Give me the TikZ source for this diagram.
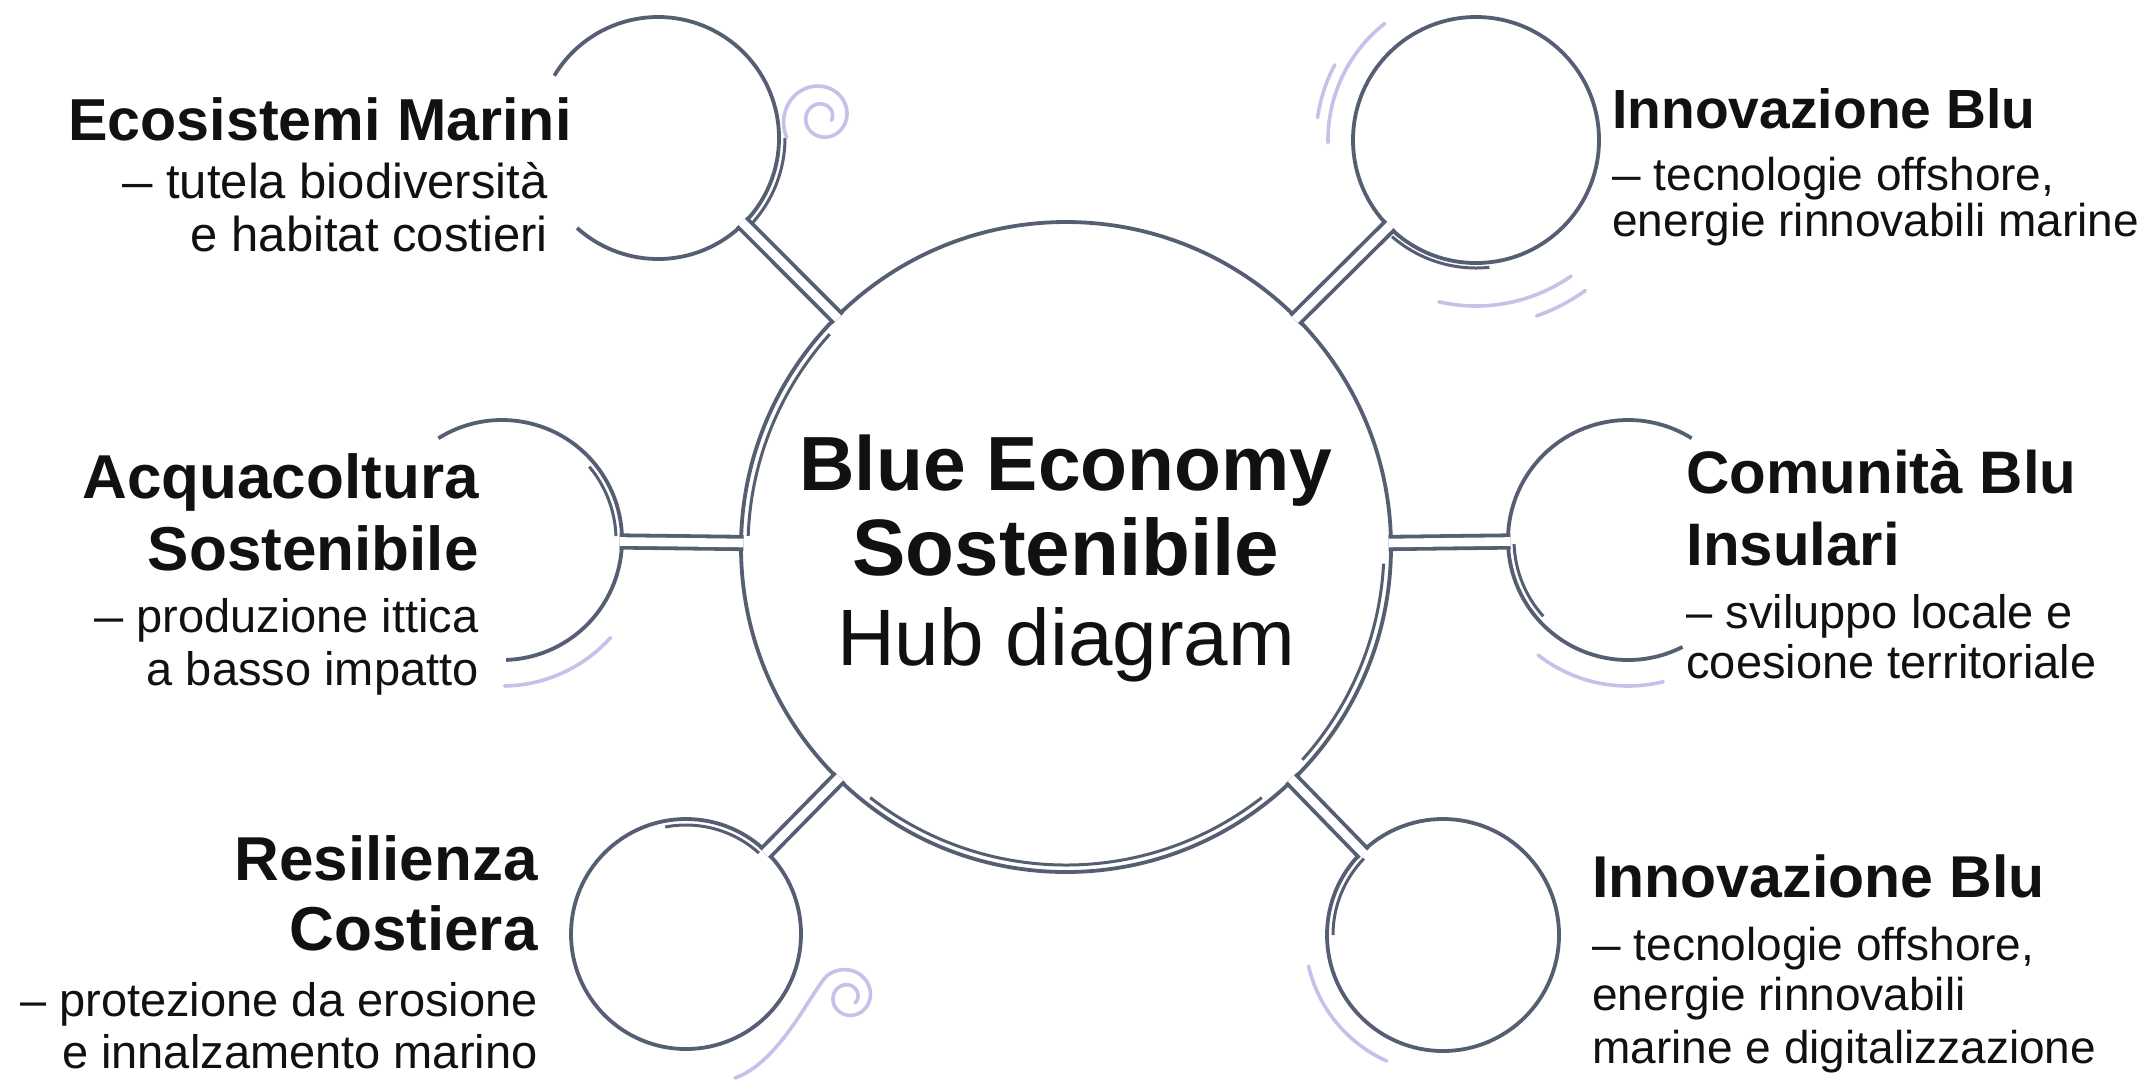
\documentclass[tikz,border=0pt]{standalone}
\usepackage{graphicx}
\usepackage{fontspec}
\setmainfont{Liberation Sans}
\definecolor{ink}{HTML}{555E72}
\definecolor{lav}{HTML}{C6C1EA}
\definecolor{txt}{HTML}{111111}
\newcommand\mytitle[1]{\bfseries\fontsize{#1}{#1}\selectfont}
\newcommand\mybody[1]{\fontsize{#1}{#1}\selectfont}
\newcommand\shortdash{\scalebox{0.62}[1]{—}}
\tikzset{
  ln/.style={draw=ink, line width=1.9pt},
  sec/.style={draw=ink, line width=1.5pt},
  lavln/.style={draw=lav, line width=1.8pt, line cap=round},
  stem/.style={draw=ink, line width=1.9pt, double=white, double distance=4.3pt, shorten <=-1.2pt, shorten >=-1.2pt},
  anchorc/.style={circle, inner sep=0pt, outer sep=0pt, minimum size=#1},
  lbl/.style={inner sep=0pt, text=txt},
  le/.style={lbl, anchor=base east},
  lw/.style={lbl, anchor=base west},
  lc/.style={lbl, anchor=base},
}
\begin{document}
\begin{tikzpicture}[x=0.5pt, y=-0.5pt]
\path[fill=white] (0,0) rectangle (2147,1084);
\useasboundingbox (0,0) rectangle (2147,1084);

% hub and satellites
\node[anchorc=325pt, ln] (hub) at (1066,547) {};
\node[anchorc=121pt] (tl) at (658,138) {};
\node[anchorc=123pt, ln] (tr) at (1476,140) {};
\node[anchorc=120pt] (ml) at (502,540) {};
\node[anchorc=120pt] (mr) at (1628,540) {};
\node[anchorc=115pt, ln] (bl) at (686,934) {};
\node[anchorc=116pt, ln] (br) at (1443,935) {};

% open arcs
\draw[ln] ([shift={(211:121)}]tl.center) arc[start angle=211, end angle=492, radius=121];
\draw[ln] ([shift={(238:120)}]ml.center) arc[start angle=238, end angle=448, radius=120];
\draw[ln] ([shift={(302:120)}]mr.center) arc[start angle=302, end angle=63, radius=120];

% secondary sketch strokes
\draw[sec] ([shift={(0:127)}]tl.center) arc[start angle=0, end angle=42, radius=127];
\draw[sec] ([shift={(84:128)}]tr.center) arc[start angle=84, end angle=131, radius=128];
\draw[sec] ([shift={(320:114)}]ml.center) arc[start angle=320, end angle=358, radius=114];
\draw[sec] ([shift={(138:114)}]mr.center) arc[start angle=138, end angle=178, radius=114];
\draw[sec] ([shift={(259:109)}]bl.center) arc[start angle=259, end angle=312, radius=109];
\draw[sec] ([shift={(180:110)}]br.center) arc[start angle=180, end angle=224, radius=110];
\draw[sec] ([shift={(182:318)}]hub.center) arc[start angle=182, end angle=222, radius=318];
\draw[sec] ([shift={(3:318)}]hub.center) arc[start angle=3, end angle=42, radius=318];
\draw[sec] ([shift={(52:318)}]hub.center) arc[start angle=52, end angle=128, radius=318];

% lavender accents
\draw[lavln] plot[domain=150:740, samples=150, smooth] ({822+38*exp(-(\x-180)/420)*cos(\x)}, {117+38*exp(-(\x-180)/420)*sin(\x)});
\draw[lavln] plot[domain=225:760, samples=150, smooth] ({848+30*exp(-(\x-225)/450)*cos(\x)}, {997+30*exp(-(\x-225)/450)*sin(\x)});
\draw[lavln] (735,1078) .. controls (780,1062) and (811,992) .. (826.8,975.8);
\draw[lavln] ([shift={(179:148)}]tr.center) arc[start angle=179, end angle=232, radius=148];
\draw[lavln] ([shift={(188:160)}]tr.center) arc[start angle=188, end angle=208, radius=160];
\draw[lavln] ([shift={(55:166)}]tr.center) arc[start angle=55, end angle=103, radius=166];
\draw[lavln] ([shift={(54:186)}]tr.center) arc[start angle=54, end angle=71, radius=186];
\draw[lavln] ([shift={(42:146)}]ml.center) arc[start angle=42, end angle=89, radius=146];
\draw[lavln] ([shift={(76:146)}]mr.center) arc[start angle=76, end angle=128, radius=146];
\draw[lavln] ([shift={(114:138)}]br.center) arc[start angle=114, end angle=167, radius=138];

% stems
\draw[stem] (hub) -- (tl);
\draw[stem] (hub) -- (tr);
\draw[stem] (hub) -- (ml);
\draw[stem] (hub) -- (mr);
\draw[stem] (hub) -- (bl);
\draw[stem] (hub) -- (br);

% hub text
\node[lc, font=\mytitle{38.4}] (h1) at (1066,490) {Blue Economy};
\node[lc, font=\mytitle{40}] (h2) at (1066,575) {Sostenibile};
\node[lc, font=\mybody{40}] (h3) at (1066,665) {Hub diagram};

% top left
\node[le, font=\mytitle{29.6}] (t1) at (572,140) {Ecosistemi Marini};
\node[le, font=\mybody{24.5}] (t1b) at (548,198) {\shortdash{} tutela biodiversità};
\node[le, font=\mybody{24.5}] (t1c) at (548,251) {e habitat costieri};

% middle left
\node[le, font=\mytitle{31}] (t2) at (479,498) {Acquacoltura};
\node[le, font=\mytitle{31}] (t2a) at (479,570) {Sostenibile};
\node[le, font=\mybody{23.5}] (t2b) at (479,632) {\shortdash{} produzione ittica};
\node[le, font=\mybody{23.5}] (t2c) at (479,685) {a basso impatto};

% bottom left
\node[le, font=\mytitle{31}] (t3) at (538,880) {Resilienza};
\node[le, font=\mytitle{31}] (t3a) at (538,950) {Costiera};
\node[le, font=\mybody{23.5}] (t3b) at (538,1016) {– protezione da erosione};
\node[le, font=\mybody{23.5}] (t3c) at (538,1068) {e innalzamento marino};

% top right
\node[lw, font=\mytitle{27.6}] (t4) at (1612,128) {Innovazione Blu};
\node[lw, font=\mybody{23}] (t4b) at (1612,190) {\shortdash{} tecnologie offshore,};
\node[lw, font=\mybody{23}] (t4c) at (1612,236) {energie rinnovabili marine};

% middle right
\node[lw, font=\mytitle{30}] (t5) at (1686,493) {Comunità Blu};
\node[lw, font=\mytitle{30}] (t5a) at (1686,565) {Insulari};
\node[lw, font=\mybody{23.5}] (t5b) at (1686,628) {– sviluppo locale e};
\node[lw, font=\mybody{23.5}] (t5c) at (1686,678) {coesione territoriale};

% bottom right
\node[lw, font=\mytitle{29.5}] (t6) at (1592,897) {Innovazione Blu};
\node[lw, font=\mybody{23}] (t6b) at (1592,960) {\shortdash{} tecnologie offshore,};
\node[lw, font=\mybody{23}] (t6c) at (1592,1010) {energie rinnovabili};
\node[lw, font=\mybody{23}] (t6d) at (1592,1063) {marine e digitalizzazione};
\end{tikzpicture}
\end{document}
